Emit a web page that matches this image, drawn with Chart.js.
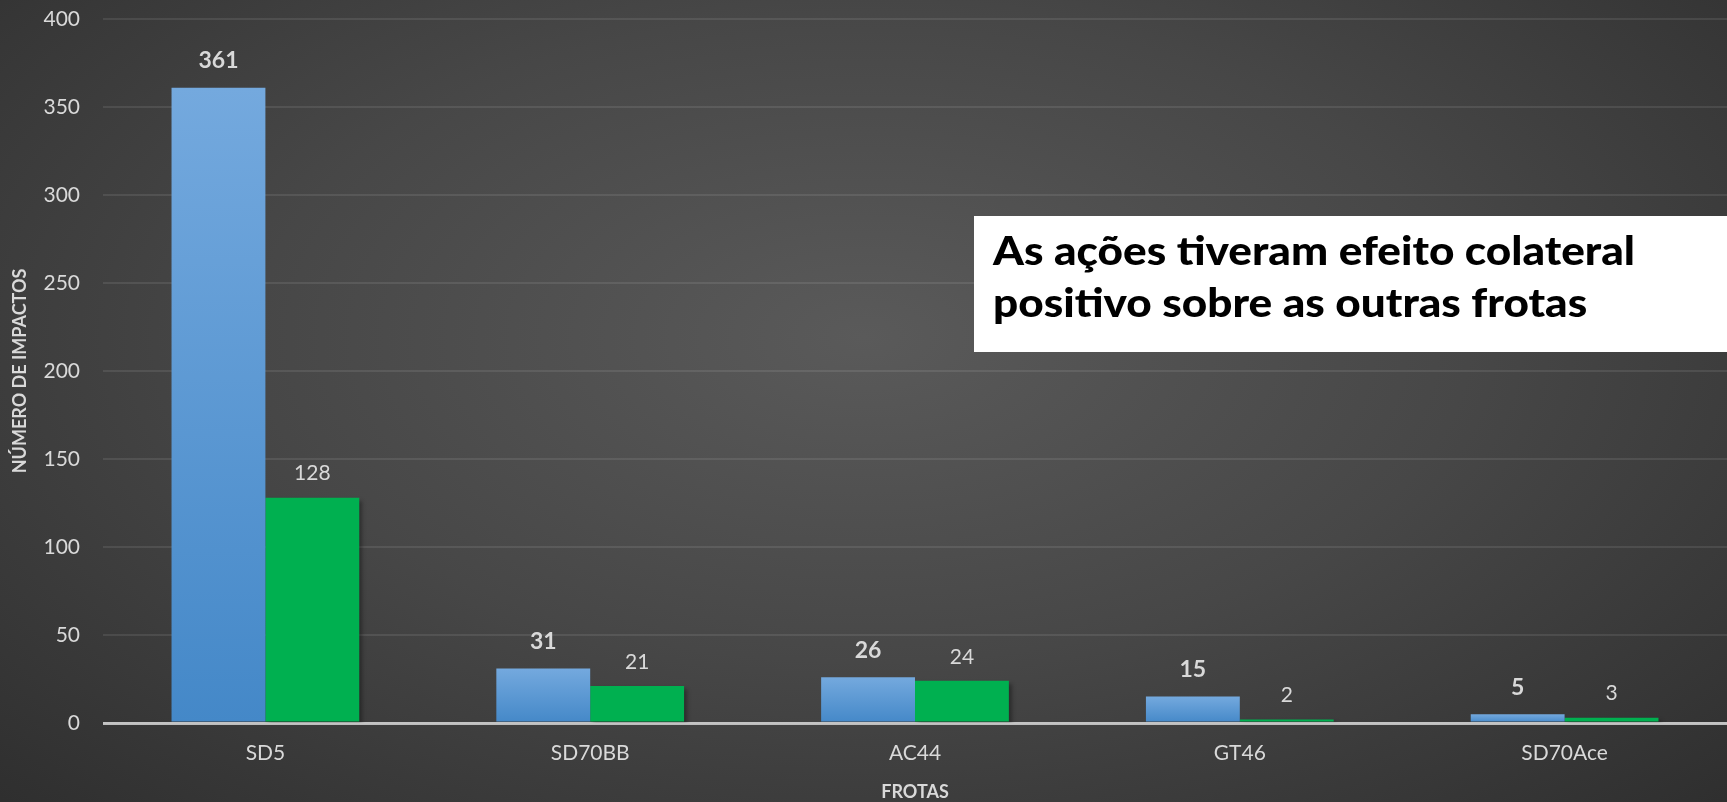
<!DOCTYPE html>
<html>
<head>
<meta charset="utf-8">
<script src="https://cdn.jsdelivr.net/npm/chart.js@4/dist/chart.umd.min.js"></script>
<style>
  html, body { margin: 0; padding: 0; overflow: hidden; }
  body {
    width: 1727px; height: 802px;
    background: radial-gradient(ellipse 78% 90% at 50% 42%, #5a5a5a 0%, #474747 45%, #2a2a2a 100%);
    font-family: Lato, "Open Sans", sans-serif;
  }
  #wrap { position: relative; width: 1727px; height: 802px; }
</style>
</head>
<body>
<div id="wrap"><canvas id="chart" width="1727" height="802"></canvas></div>
<script>
// ========== Data ==========
const frotas = ["SD5", "SD70BB", "AC44", "GT46", "SD70Ace"];
const antes = [361, 31, 26, 15, 5];     // blue series
const depois = [128, 21, 24, 2, 3];     // green series
const yTicks = [0, 50, 100, 150, 200, 250, 300, 350, 400];
const noteLines = ["As ações tiveram efeito colateral", "positivo sobre as outras frotas"];

const FONT = 'Lato, "Open Sans", sans-serif';
const TXT = '#d9d9d9';

// blue bars: light top -> darker bottom, per bar
function blueFill(c) {
  const chart = c.chart;
  const y = chart.scales.y;
  if (!y || c.dataIndex === undefined || !chart.chartArea) return '#5b9bd5';
  const top = y.getPixelForValue(antes[c.dataIndex]);
  const base = y.getPixelForValue(0);
  const g = chart.ctx.createLinearGradient(0, top, 0, base);
  g.addColorStop(0, '#74a9de');
  g.addColorStop(1, '#4488c8');
  return g;
}

// ========== Plugins ==========
// soft drop shadow, only on the green set (drawn first, so blue stays clean on top)
const barShadow = {
  id: 'barShadow',
  beforeDatasetDraw(chart, args) {
    const ctx = chart.ctx;
    ctx.save();
    if (args.index === 1) {
      ctx.shadowColor = 'rgba(0,0,0,0.35)';
      ctx.shadowBlur = 4;
      ctx.shadowOffsetX = 3;
      ctx.shadowOffsetY = 3;
    }
  },
  afterDatasetDraw(chart) {
    chart.ctx.restore();
  }
};

const valueLabels = {
  id: 'valueLabels',
  afterDatasetsDraw(chart) {
    const ctx = chart.ctx;
    ctx.save();
    ctx.textAlign = 'center';
    ctx.textBaseline = 'middle';
    ctx.fillStyle = TXT;
    chart.data.datasets.forEach((ds, i) => {
      const meta = chart.getDatasetMeta(i);
      const bold = i === 0;
      ctx.font = (bold ? 'bold 23px ' : '21px ') + FONT;
      meta.data.forEach((bar, j) => {
        ctx.fillText(String(ds.data[j]), bar.x, bar.y - (bold ? 27 : 24));
      });
    });
    // zero line sits over the bar feet
    const y0 = chart.scales.y.getPixelForValue(0);
    ctx.strokeStyle = 'rgba(200,200,200,0.55)';
    ctx.lineWidth = 2;
    ctx.beginPath();
    ctx.moveTo(chart.chartArea.left, y0);
    ctx.lineTo(chart.chartArea.right, y0);
    ctx.stroke();
    ctx.restore();
  }
};

const noteBox = {
  id: 'noteBox',
  afterDraw(chart) {
    const ctx = chart.ctx;
    ctx.save();
    ctx.fillStyle = '#ffffff';
    ctx.fillRect(974, 216, chart.width - 974, 136);
    ctx.fillStyle = '#000000';
    ctx.font = '900 39px ' + FONT;
    ctx.textBaseline = 'alphabetic';
    ctx.textAlign = 'left';
    const w = ctx.measureText(noteLines[0]).width;
    const sx = 642 / w;
    ctx.translate(993, 0);
    ctx.scale(sx, 1);
    ctx.fillText(noteLines[0], 0, 265);
    ctx.fillText(noteLines[1], 0, 317);
    ctx.restore();
  }
};

// ========== Chart ==========
const chart = new Chart(document.getElementById('chart'), {
  type: 'bar',
  data: {
    labels: frotas,
    datasets: [
      { label: 'Antes', data: antes, backgroundColor: blueFill, borderWidth: 0 },
      { label: 'Depois', data: depois, backgroundColor: '#00b050', borderWidth: 0 }
    ]
  },
  options: {
    responsive: false,
    animation: false,
    devicePixelRatio: 1,
    layout: { padding: { top: 19, right: 0, bottom: 0, left: 0 } },
    datasets: { bar: { categoryPercentage: 0.578, barPercentage: 1 } },
    plugins: {
      legend: { display: false },
      tooltip: { enabled: false }
    },
    scales: {
      x: {
        grid: { display: false, drawTicks: false },
        border: { display: false },
        ticks: { color: TXT, font: { family: FONT, size: 21 }, padding: 18 },
        title: {
          display: true, text: 'FROTAS', color: TXT,
          font: { family: FONT, size: 18, weight: 'bold', lineHeight: 1.1 },
          padding: { top: 0, bottom: 0 }
        },
        afterFit(s) { s.height = 79; }
      },
      y: {
        min: 0, max: 400,
        afterBuildTicks(s) { s.ticks = yTicks.map(v => ({ value: v })); },
        grid: {
          drawTicks: false,
          color: c => c.tick && c.tick.value === 0 ? '#bdbdbd' : 'rgba(255,255,255,0.09)',
          lineWidth: c => c.tick && c.tick.value === 0 ? 3 : 2
        },
        border: { display: false },
        ticks: { color: TXT, font: { family: FONT, size: 21 }, padding: 23 },
        title: {
          display: true, text: 'NÚMERO DE IMPACTOS', color: TXT,
          font: { family: FONT, size: 18, weight: 'bold', lineHeight: 1.2 },
          padding: { top: 9, bottom: 0 }
        },
        afterFit(s) {
          s.width = 103;
          // tick padding should only push labels sideways, not shrink the plot area
          s.paddingTop = 0;
          s.paddingBottom = 0;
        }
      }
    }
  },
  plugins: [barShadow, valueLabels, noteBox]
});
</script>
</body>
</html>
